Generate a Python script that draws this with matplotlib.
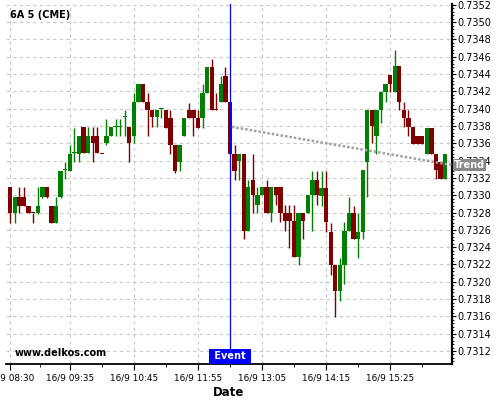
import numpy as np
import pandas as pd
import matplotlib as mpl
mpl.use("Agg")
import matplotlib.pyplot as plt
import matplotlib.transforms as mtransforms
from matplotlib.ticker import FixedLocator, AutoMinorLocator, MultipleLocator

# 5 minute candles of 6A, 16/9 from 08:30
opens = [0.73309, 0.73280, 0.73298, 0.73298, 0.73288, 0.73280, 0.73280, 0.73298, 0.73309, 0.73288,
         0.73268, 0.73298, 0.73329, 0.73328, 0.73349, 0.73348, 0.73379, 0.73349, 0.73369, 0.73369,
         0.73349, 0.73360, 0.73369, 0.73379, 0.73379, 0.73390, 0.73379, 0.73369, 0.73408, 0.73429,
         0.73408, 0.73399, 0.73390, 0.73400, 0.73398, 0.73389, 0.73358, 0.73339, 0.73369, 0.73398,
         0.73398, 0.73389, 0.73389, 0.73418, 0.73448, 0.73399, 0.73408, 0.73438, 0.73408, 0.73348,
         0.73340, 0.73348, 0.73259, 0.73318, 0.73289, 0.73300, 0.73309, 0.73280, 0.73309, 0.73309,
         0.73280, 0.73280, 0.73270, 0.73229, 0.73280, 0.73280, 0.73300, 0.73318, 0.73299, 0.73308,
         0.73258, 0.73219, 0.73189, 0.73219, 0.73259, 0.73279, 0.73249, 0.73258, 0.73338, 0.73399,
         0.73369, 0.73399, 0.73419, 0.73439, 0.73419, 0.73449, 0.73399, 0.73389, 0.73379, 0.73369,
         0.73369, 0.73348, 0.73378, 0.73348, 0.73339, 0.73319]
highs = [0.73309, 0.73298, 0.73309, 0.73309, 0.73288, 0.73280, 0.73309, 0.73309, 0.73309, 0.73288,
         0.73298, 0.73328, 0.73338, 0.73358, 0.73378, 0.73369, 0.73379, 0.73379, 0.73379, 0.73379,
         0.73349, 0.73388, 0.73379, 0.73388, 0.73388, 0.73399, 0.73379, 0.73418, 0.73429, 0.73429,
         0.73418, 0.73399, 0.73399, 0.73400, 0.73398, 0.73398, 0.73358, 0.73358, 0.73389, 0.73407,
         0.73398, 0.73398, 0.73428, 0.73448, 0.73458, 0.73418, 0.73438, 0.73448, 0.73408, 0.73358,
         0.73348, 0.73348, 0.73318, 0.73348, 0.73309, 0.73309, 0.73318, 0.73309, 0.73309, 0.73309,
         0.73289, 0.73289, 0.73289, 0.73280, 0.73280, 0.73300, 0.73328, 0.73328, 0.73328, 0.73328,
         0.73268, 0.73219, 0.73228, 0.73269, 0.73298, 0.73288, 0.73279, 0.73329, 0.73399, 0.73399,
         0.73399, 0.73419, 0.73429, 0.73439, 0.73468, 0.73449, 0.73408, 0.73399, 0.73379, 0.73369,
         0.73369, 0.73378, 0.73378, 0.73348, 0.73339, 0.73348]
lows = [0.73268, 0.73268, 0.73280, 0.73288, 0.73280, 0.73268, 0.73278, 0.73297, 0.73297, 0.73268,
        0.73268, 0.73297, 0.73319, 0.73328, 0.73338, 0.73338, 0.73349, 0.73349, 0.73338, 0.73349,
        0.73349, 0.73358, 0.73369, 0.73369, 0.73369, 0.73369, 0.73338, 0.73360, 0.73408, 0.73408,
        0.73369, 0.73379, 0.73379, 0.73389, 0.73378, 0.73348, 0.73326, 0.73328, 0.73368, 0.73389,
        0.73368, 0.73378, 0.73378, 0.73418, 0.73398, 0.73399, 0.73408, 0.73408, 0.73348, 0.73318,
        0.73318, 0.73249, 0.73259, 0.73279, 0.73279, 0.73300, 0.73280, 0.73269, 0.73289, 0.73269,
        0.73259, 0.73239, 0.73229, 0.73219, 0.73249, 0.73280, 0.73259, 0.73289, 0.73288, 0.73258,
        0.73208, 0.73159, 0.73178, 0.73198, 0.73259, 0.73249, 0.73228, 0.73249, 0.73298, 0.73360,
        0.73348, 0.73383, 0.73408, 0.73419, 0.73419, 0.73399, 0.73379, 0.73369, 0.73359, 0.73359,
        0.73359, 0.73348, 0.73348, 0.73319, 0.73319, 0.73319]
closes = [0.73280, 0.73298, 0.73288, 0.73288, 0.73280, 0.73279, 0.73288, 0.73309, 0.73298, 0.73268,
          0.73288, 0.73328, 0.73329, 0.73348, 0.73349, 0.73369, 0.73349, 0.73369, 0.73360, 0.73349,
          0.73348, 0.73369, 0.73379, 0.73379, 0.73379, 0.73390, 0.73360, 0.73408, 0.73429, 0.73408,
          0.73399, 0.73390, 0.73399, 0.73400, 0.73378, 0.73358, 0.73328, 0.73358, 0.73389, 0.73389,
          0.73389, 0.73378, 0.73418, 0.73448, 0.73398, 0.73398, 0.73428, 0.73408, 0.73348, 0.73328,
          0.73348, 0.73259, 0.73309, 0.73300, 0.73300, 0.73309, 0.73280, 0.73309, 0.73300, 0.73280,
          0.73270, 0.73270, 0.73229, 0.73280, 0.73270, 0.73300, 0.73318, 0.73300, 0.73308, 0.73269,
          0.73219, 0.73189, 0.73219, 0.73259, 0.73279, 0.73249, 0.73258, 0.73329, 0.73399, 0.73380,
          0.73399, 0.73419, 0.73429, 0.73429, 0.73449, 0.73408, 0.73389, 0.73379, 0.73359, 0.73359,
          0.73359, 0.73378, 0.73348, 0.73329, 0.73319, 0.73348]

start_time = "2015-09-16 08:30"
tick_labels = ["16/9 08:30", "16/9 09:35", "16/9 10:45", "16/9 11:55",
               "16/9 13:05", "16/9 14:15", "16/9 15:25"]
event_time = "16/9 12:30"
trend_times = ["16/9 12:32", "16/9 16:32"]
trend_values = [0.73379, 0.73335]

times = pd.date_range(start_time, periods=len(opens), freq="5min")
names = list(times.strftime("%-d/%-m %H:%M"))
xs = np.arange(len(opens))


def to_x(label):
    t = pd.to_datetime("2015/" + label.split()[0].split("/")[1] + "/" +
                       label.split()[0].split("/")[0] + " " + label.split()[1])
    return (t - times[0]) / pd.Timedelta("5min")


fig = plt.figure(figsize=(5, 4), dpi=100)
ax = fig.add_axes([0.012, 0.09, 0.891, 0.90])

o = np.array(opens); c = np.array(closes)
h = np.array(highs); l = np.array(lows)
up = c >= o
cols = np.where(up, "#008000", "#800000")
body_lo = np.minimum(o, c)
body_h = np.maximum(np.abs(c - o), 0.000012)

ax.vlines(xs, l, h, colors=cols, linewidth=1.0, zorder=3)
ax.bar(xs, body_h, bottom=body_lo, width=0.95, color=cols, linewidth=0, zorder=4)

# trend and event
ax.plot([to_x(t) for t in trend_times], trend_values, color="#a0a0a0",
        linestyle=(0, (1, 0.8)), linewidth=1.8, zorder=5)
ev = to_x(event_time)
ax.axvline(ev, color="#0000ff", linewidth=0.9, zorder=6)

ax.set_xlim(-0.94, 96.4)
ax.set_ylim(0.73105, 0.73521)

ax.yaxis.tick_right()
ax.yaxis.set_major_locator(MultipleLocator(0.0002))
ax.yaxis.set_minor_locator(AutoMinorLocator(5))
ax.yaxis.set_major_formatter(mpl.ticker.FormatStrFormatter("%.4f"))
tick_pos = [names.index(t) for t in tick_labels]
ax.xaxis.set_major_locator(FixedLocator(tick_pos))
ax.xaxis.set_minor_locator(FixedLocator([(a + b) / 2 for a, b in zip(tick_pos[:-1], tick_pos[1:])]
                                        + [tick_pos[-1] + 7]))
ax.set_xticklabels(tick_labels)

ax.tick_params(axis="y", which="major", length=3, width=0.8, labelsize=7, pad=1.5)
ax.tick_params(axis="y", which="minor", length=1.5, width=0.6)
ax.tick_params(axis="x", which="major", length=4, width=0.8, labelsize=6.4, pad=3)
ax.tick_params(axis="x", which="minor", length=2, width=0.6)

for s in ["left", "top"]:
    ax.spines[s].set_visible(False)
ax.spines["right"].set_linewidth(1.6)
ax.spines["bottom"].set_linewidth(1.3)

ax.set_axisbelow(True)
ax.grid(True, which="major", color="#c8c8c8", linestyle=(0, (3, 3)), linewidth=0.8)

ax.set_xlabel("Date", fontsize=8.5, fontweight="bold", labelpad=2)

fig.text(0.02, 0.962, "6A 5 (CME)", fontsize=7, fontweight="bold", va="center")
fig.text(0.03, 0.117, "www.delkos.com", fontsize=7, fontweight="bold", va="center")

tr_ev = mtransforms.blended_transform_factory(ax.transData, ax.transAxes)
ax.text(ev, 0.021, " Event ", transform=tr_ev, ha="center", va="center", color="white",
        fontsize=7, fontweight="bold", zorder=10,
        bbox=dict(boxstyle="square,pad=0.25", fc="#0000ff", ec="none"))

tr_tr = mtransforms.blended_transform_factory(ax.transAxes, ax.transData)
ax.text(1.006, trend_values[-1], "Trend", transform=tr_tr, ha="left", va="center", color="white",
        fontsize=7, fontweight="bold", zorder=10, clip_on=False,
        bbox=dict(boxstyle="square,pad=0.12", fc="#888888", ec="none"))

fig.savefig("out.png", dpi=100)
